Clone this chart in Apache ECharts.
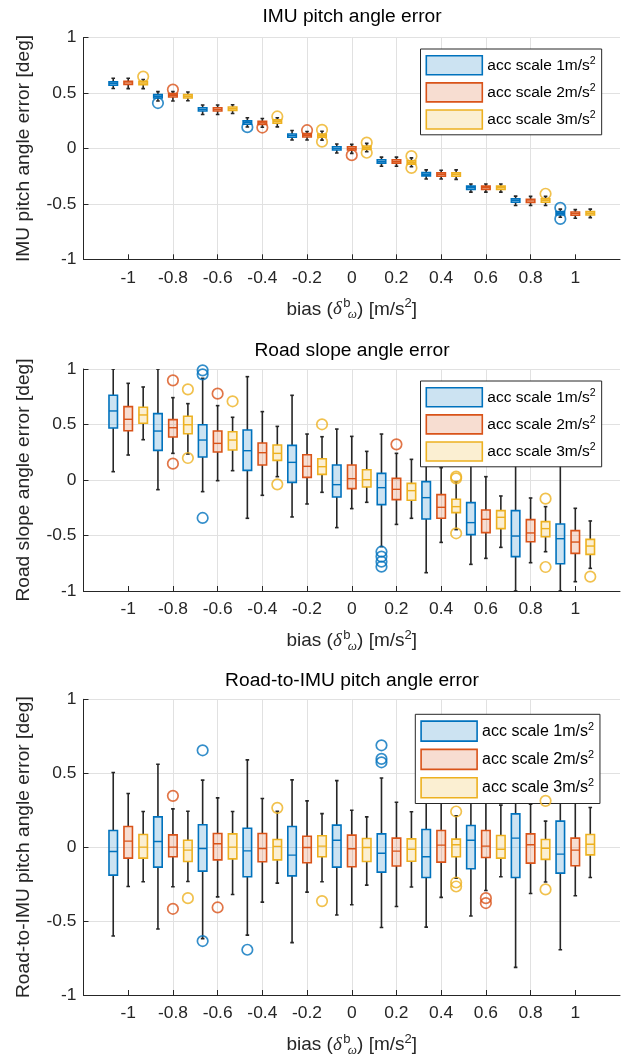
<!DOCTYPE html>
<html><head><meta charset="utf-8">
<script src="https://cdn.jsdelivr.net/npm/echarts@6/dist/echarts.min.js"></script>
<style>html,body{margin:0;padding:0;background:#fff}#c{width:628px;height:1062px}</style>
</head><body><div id="c"></div>
<script>
// ---------------- data ----------------
const biasGroups = [-1, -0.8, -0.6, -0.4, -0.2, 0, 0.2, 0.4, 0.6, 0.8, 1];
const xTickValues = [-1, -0.8, -0.6, -0.4, -0.2, 0, 0.2, 0.4, 0.6, 0.8, 1];
const yTickValues = [-1, -0.5, 0, 0.5, 1];
const seriesNames = ['acc scale 1m/s²', 'acc scale 2m/s²', 'acc scale 3m/s²'];
const panelTitles = ['IMU pitch angle error', 'Road slope angle error', 'Road-to-IMU pitch angle error'];
const yAxisTitles = ['IMU pitch angle error [deg]', 'Road slope angle error [deg]', 'Road-to-IMU pitch angle error [deg]'];

// [min, q1, median, q3, max] per bias group
const imuBlue = [
  [0.540, 0.570, 0.585, 0.600, 0.633], [0.427, 0.455, 0.470, 0.485, 0.512], [0.306, 0.337, 0.352, 0.367, 0.391],
  [0.193, 0.218, 0.233, 0.248, 0.276], [0.076, 0.100, 0.115, 0.130, 0.162], [-0.042, -0.015, 0.000, 0.015, 0.039],
  [-0.161, -0.133, -0.118, -0.103, -0.079], [-0.276, -0.248, -0.233, -0.218, -0.194], [-0.394, -0.370, -0.355, -0.340, -0.321],
  [-0.515, -0.485, -0.470, -0.455, -0.430], [-0.621, -0.600, -0.585, -0.570, -0.548]];
const imuRed = [
  [0.539, 0.576, 0.591, 0.606, 0.633], [0.427, 0.464, 0.479, 0.494, 0.512], [0.306, 0.337, 0.352, 0.367, 0.391],
  [0.191, 0.215, 0.230, 0.245, 0.270], [0.076, 0.103, 0.118, 0.133, 0.152], [-0.045, -0.015, 0.000, 0.015, 0.036],
  [-0.161, -0.133, -0.118, -0.103, -0.079], [-0.276, -0.251, -0.236, -0.221, -0.197], [-0.394, -0.370, -0.355, -0.340, -0.321],
  [-0.515, -0.488, -0.473, -0.458, -0.433], [-0.630, -0.603, -0.588, -0.573, -0.552]];
const imuYellow = [
  [0.539, 0.575, 0.590, 0.605, 0.621], [0.430, 0.455, 0.470, 0.485, 0.509], [0.315, 0.343, 0.358, 0.373, 0.394],
  [0.194, 0.227, 0.242, 0.257, 0.276], [0.075, 0.100, 0.115, 0.130, 0.155], [-0.030, -0.009, 0.006, 0.021, 0.045],
  [-0.165, -0.142, -0.127, -0.112, -0.085], [-0.279, -0.251, -0.236, -0.221, -0.194], [-0.394, -0.370, -0.355, -0.340, -0.321],
  [-0.515, -0.485, -0.470, -0.455, -0.433], [-0.624, -0.600, -0.585, -0.570, -0.548]];
const imuBlueOut = [[-0.8, 0.409], [-0.4, 0.191], [1, -0.536], [1, -0.636]];
const imuRedOut = [[-0.8, 0.530], [-0.4, 0.188], [-0.2, 0.164], [0, -0.061]];
const imuYellowOut = [[-1, 0.648], [-0.4, 0.288], [-0.2, 0.167], [-0.2, 0.061], [0, 0.052], [0, -0.039], [0.2, -0.070], [0.2, -0.176], [0.8, -0.409]];

const slopeBlue = [
  [0.075, 0.468, 0.622, 0.763, 1.0], [-0.087, 0.267, 0.441, 0.598, 1.0], [-0.105, 0.207, 0.360, 0.498, 0.916],
  [-0.345, 0.087, 0.264, 0.450, 0.931], [-0.333, -0.021, 0.159, 0.312, 0.763], [-0.429, -0.153, -0.042, 0.135, 0.459],
  [-0.600, -0.222, -0.069, 0.060, 0.414], [-0.835, -0.351, -0.159, -0.015, 0.450], [-0.760, -0.492, -0.384, -0.204, 0.300],
  [-1.0, -0.690, -0.505, -0.276, 0.350], [-1.0, -0.754, -0.529, -0.396, 0.250]];
const slopeRed = [
  [0.225, 0.444, 0.547, 0.661, 0.871], [0.240, 0.387, 0.471, 0.544, 0.742], [-0.006, 0.252, 0.330, 0.441, 0.670],
  [-0.138, 0.135, 0.246, 0.333, 0.616], [-0.216, 0.024, 0.123, 0.228, 0.414], [-0.258, -0.078, 0.012, 0.135, 0.393],
  [-0.400, -0.177, -0.084, 0.015, 0.240], [-0.562, -0.345, -0.246, -0.132, 0.111], [-0.706, -0.474, -0.354, -0.270, 0.030],
  [-0.745, -0.556, -0.477, -0.357, -0.162], [-0.916, -0.661, -0.559, -0.456, -0.255]];
const slopeYellow = [
  [0.363, 0.511, 0.586, 0.655, 0.838], [0.234, 0.417, 0.498, 0.574, 0.688], [0.084, 0.270, 0.360, 0.435, 0.565],
  [0.030, 0.177, 0.240, 0.315, 0.483], [-0.111, 0.051, 0.120, 0.192, 0.390], [-0.201, -0.063, 0.003, 0.093, 0.258],
  [-0.345, -0.183, -0.096, -0.030, 0.186], [-0.447, -0.294, -0.240, -0.174, -0.015], [-0.607, -0.438, -0.336, -0.276, -0.144],
  [-0.646, -0.511, -0.438, -0.375, -0.240], [-0.796, -0.670, -0.595, -0.535, -0.369]];
const slopeBlueOut = [[-0.6, 0.988], [-0.6, 0.952], [-0.6, -0.342], [0.2, -0.646], [0.2, -0.690], [0.2, -0.736], [0.2, -0.781]];
const slopeRedOut = [[-0.8, 0.898], [-0.8, 0.147], [-0.6, 0.778], [0.2, 0.321]];
const slopeYellowOut = [[-0.8, 0.817], [-0.8, 0.198], [-0.6, 0.709], [-0.4, -0.039], [-0.2, 0.502], [0.4, 0.030], [0.4, 0.015], [0.4, -0.480], [0.8, -0.168], [0.8, -0.784], [1, -0.871]];

const r2iBlue = [
  [-0.601, -0.189, -0.029, 0.113, 0.505], [-0.554, -0.135, 0.038, 0.205, 0.561], [-0.619, -0.162, -0.009, 0.151, 0.453],
  [-0.595, -0.200, -0.025, 0.128, 0.590], [-0.646, -0.194, -0.054, 0.140, 0.455], [-0.459, -0.135, 0.047, 0.149, 0.450],
  [-0.543, -0.169, -0.041, 0.090, 0.468], [-0.541, -0.205, -0.065, 0.119, 0.400], [-0.466, -0.146, 0.047, 0.146, 0.400],
  [-0.813, -0.205, 0.061, 0.225, 0.500], [-0.694, -0.176, -0.047, 0.176, 0.500]];
const r2iRed = [
  [-0.266, -0.074, 0.041, 0.140, 0.363], [-0.268, -0.065, 0.000, 0.083, 0.259], [-0.336, -0.086, 0.023, 0.092, 0.333],
  [-0.372, -0.099, -0.009, 0.092, 0.329], [-0.304, -0.106, -0.002, 0.074, 0.313], [-0.390, -0.133, -0.011, 0.081, 0.250],
  [-0.401, -0.128, -0.027, 0.061, 0.304], [-0.340, -0.101, 0.014, 0.113, 0.309], [-0.293, -0.070, 0.007, 0.113, 0.330],
  [-0.313, -0.108, 0.016, 0.090, 0.291], [-0.329, -0.126, -0.020, 0.061, 0.330]];
const r2iYellow = [
  [-0.234, -0.074, 0.000, 0.086, 0.241], [-0.232, -0.097, -0.020, 0.047, 0.243], [-0.320, -0.079, 0.000, 0.090, 0.241],
  [-0.243, -0.086, 0.005, 0.052, 0.243], [-0.234, -0.065, 0.007, 0.077, 0.227], [-0.257, -0.097, -0.002, 0.059, 0.205],
  [-0.270, -0.095, -0.014, 0.056, 0.239], [-0.210, -0.065, 0.016, 0.054, 0.212], [-0.200, -0.074, -0.014, 0.079, 0.284],
  [-0.236, -0.083, -0.007, 0.052, 0.176], [-0.205, -0.052, 0.020, 0.086, 0.268]];
const r2iBlueOut = [[-0.6, 0.655], [-0.6, -0.635], [-0.4, -0.694], [0.2, 0.689], [0.2, 0.597], [0.2, 0.574]];
const r2iRedOut = [[-0.8, 0.347], [-0.8, -0.417], [-0.6, -0.408], [0.6, -0.345], [0.6, -0.378]];
const r2iYellowOut = [[-0.8, -0.345], [-0.4, 0.266], [-0.2, -0.365], [0.4, 0.241], [0.4, -0.239], [0.4, -0.266], [0.8, 0.313], [0.8, -0.286]];

// ---------------- style ----------------
const FONT = "'Liberation Sans', Arial, Helvetica, sans-serif";
const COLORS = ['#0072BD', '#D95319', '#EDB120'];
const FILLS = ['rgba(0,114,189,0.2)', 'rgba(217,83,25,0.2)', 'rgba(237,177,32,0.2)'];
const AXIS_C = '#262626';
const GRID_C = '#e1e1e1';
const OFFS = [-0.067, 0, 0.067];
const BOX_W = 0.038;
const CAP = 1.8;

const panels = [
  {stats: [imuBlue, imuRed, imuYellow], outs: [imuBlueOut, imuRedOut, imuYellowOut],
   grid: {left: 83.5, right: 8, top: 37.5, height: 221.8}, titleTop: 7,
   legend: {left: 420.5, top: 49, fs: 15.5, iw: 56, ih: 19, gap: 6.5}},
  {stats: [slopeBlue, slopeRed, slopeYellow], outs: [slopeBlueOut, slopeRedOut, slopeYellowOut],
   grid: {left: 83.5, right: 8, top: 369, height: 222}, titleTop: 341,
   legend: {left: 420.5, top: 381, fs: 15.5, iw: 56, ih: 19, gap: 6.5}},
  {stats: [r2iBlue, r2iRed, r2iYellow], outs: [r2iBlueOut, r2iRedOut, r2iYellowOut],
   grid: {left: 83.5, right: 8, top: 699.3, height: 295.7}, titleTop: 671.5,
   legend: {left: 415.3, top: 714.3, fs: 16, iw: 56, ih: 20, gap: 6.7}}
];

function boxRenderer(ci) {
  return function (params, api) {
    const x = api.value(0);
    const pLo = api.coord([x, api.value(1)]);
    const pQ1 = api.coord([x, api.value(2)]);
    const pMd = api.coord([x, api.value(3)]);
    const pQ3 = api.coord([x, api.value(4)]);
    const pHi = api.coord([x, api.value(5)]);
    const w = api.size([BOX_W, 0])[0];
    const cx = pMd[0];
    const ws = {stroke: AXIS_C, lineWidth: 1.6};
    return {type: 'group', children: [
      {type: 'line', shape: {x1: cx, y1: pQ3[1], x2: cx, y2: pHi[1]}, style: ws},
      {type: 'line', shape: {x1: cx, y1: pQ1[1], x2: cx, y2: pLo[1]}, style: ws},
      {type: 'line', shape: {x1: cx - CAP, y1: pHi[1], x2: cx + CAP, y2: pHi[1]}, style: ws},
      {type: 'line', shape: {x1: cx - CAP, y1: pLo[1], x2: cx + CAP, y2: pLo[1]}, style: ws},
      {type: 'rect', shape: {x: cx - w / 2, y: pQ3[1], width: w, height: pQ1[1] - pQ3[1]},
       style: {fill: FILLS[ci], stroke: COLORS[ci], lineWidth: 1.6}},
      {type: 'line', shape: {x1: cx - w / 2, y1: pMd[1], x2: cx + w / 2, y2: pMd[1]},
       style: {stroke: COLORS[ci], lineWidth: 1.4}}
    ]};
  };
}

const xNameRich = {
  t: {fontSize: 19, fontFamily: FONT, color: AXIS_C, lineHeight: 24},
  d: {fontSize: 19, fontFamily: "'Liberation Serif', serif", fontStyle: 'italic', color: AXIS_C, lineHeight: 24},
  b: {fontSize: 13, fontFamily: FONT, color: AXIS_C, verticalAlign: 'top', lineHeight: 9, width: 0.1, align: 'left', padding: [0, 0, 0, 5]},
  w: {fontSize: 13, fontFamily: "'Liberation Serif', serif", fontStyle: 'italic', color: AXIS_C, verticalAlign: 'bottom', lineHeight: 9, padding: [0, 0, 0, 1]},
  s: {fontSize: 13, fontFamily: FONT, color: AXIS_C, verticalAlign: 'top', lineHeight: 9}
};
const xName = '{t|bias (}{d|δ}{b|b}{w|ω}{t|) [m/s}{s|2}{t|]}';

const option = {
  animation: false,
  backgroundColor: '#fff',
  title: [], grid: [], xAxis: [], yAxis: [], legend: [], series: []
};

panels.forEach((p, pi) => {
  option.grid.push(Object.assign({containLabel: false}, p.grid));
  option.title.push({
    text: panelTitles[pi], left: 352, top: p.titleTop, textAlign: 'center', padding: 0,
    textStyle: {fontSize: 19.2, fontWeight: 'normal', color: '#000', fontFamily: FONT}
  });
  option.xAxis.push({
    type: 'value', gridIndex: pi, min: -1.2, max: 1.2, interval: 0.2,
    axisLine: {show: true, onZero: false, lineStyle: {color: AXIS_C, width: 1}},
    axisTick: {show: true, inside: true, length: 5, lineStyle: {color: AXIS_C}, customValues: xTickValues},
    axisLabel: {customValues: xTickValues, margin: 10,
      fontSize: 17.4, color: AXIS_C, fontFamily: FONT},
    splitLine: {show: true, showMinLine: false, showMaxLine: false, lineStyle: {color: GRID_C, width: 1}},
    name: xName, nameLocation: 'middle', nameGap: 38,
    nameTextStyle: {rich: xNameRich, fontSize: 19, fontFamily: FONT, color: AXIS_C}
  });
  option.yAxis.push({
    type: 'value', gridIndex: pi, min: -1, max: 1, interval: 0.5,
    axisLine: {show: true, onZero: false, lineStyle: {color: AXIS_C, width: 1}},
    axisTick: {show: true, inside: true, length: 5, lineStyle: {color: AXIS_C}},
    axisLabel: {margin: 7, fontSize: 17.4, color: AXIS_C, fontFamily: FONT},
    splitLine: {show: true, lineStyle: {color: GRID_C, width: 1}},
    name: yAxisTitles[pi], nameLocation: 'middle', nameGap: 50,
    nameTextStyle: {fontSize: 19.2, color: AXIS_C, fontFamily: FONT}
  });
  const L = p.legend;
  option.legend.push({
    orient: 'vertical', left: L.left, top: L.top, padding: [6, 6, 5, 5],
    itemWidth: L.iw, itemHeight: L.ih, itemGap: L.gap, selectedMode: false,
    backgroundColor: '#fff', borderColor: AXIS_C, borderWidth: 1,
    data: seriesNames.map((n, i) => ({name: n, icon: 'rect',
      itemStyle: {color: FILLS[i], borderColor: COLORS[i], borderWidth: 1.6}})),
    formatter: name => '{a|' + name.replace('²', '') + '}{s|2}',
    textStyle: {fontFamily: FONT, color: '#000', fontSize: L.fs, rich: {
      a: {fontFamily: FONT, color: '#000', fontSize: L.fs, lineHeight: L.ih},
      s: {fontFamily: FONT, color: '#000', fontSize: L.fs * 0.68, verticalAlign: 'top', lineHeight: 6}
    }}
  });
  p.stats.forEach((arr, ci) => {
    option.series.push({
      type: 'custom', name: seriesNames[ci], xAxisIndex: pi, yAxisIndex: pi, clip: true,
      renderItem: boxRenderer(ci),
      encode: {x: 0, y: [1, 2, 3, 4, 5]},
      itemStyle: {color: COLORS[ci]},
      data: arr.map((s, gi) => [biasGroups[gi] + OFFS[ci]].concat(s)),
      z: 3
    });
    option.series.push({
      type: 'scatter', name: 'outliers ' + pi + '-' + ci, xAxisIndex: pi, yAxisIndex: pi,
      symbol: 'circle', symbolSize: 10.5, clip: true,
      itemStyle: {color: 'rgba(0,0,0,0)', borderColor: COLORS[ci], borderWidth: 1.7},
      data: p.outs[ci].map(o => [o[0] + OFFS[ci], o[1]]),
      z: 4
    });
  });
});

const chart = echarts.init(document.getElementById('c'), null, {renderer: 'canvas'});
chart.setOption(option);
</script></body></html>
